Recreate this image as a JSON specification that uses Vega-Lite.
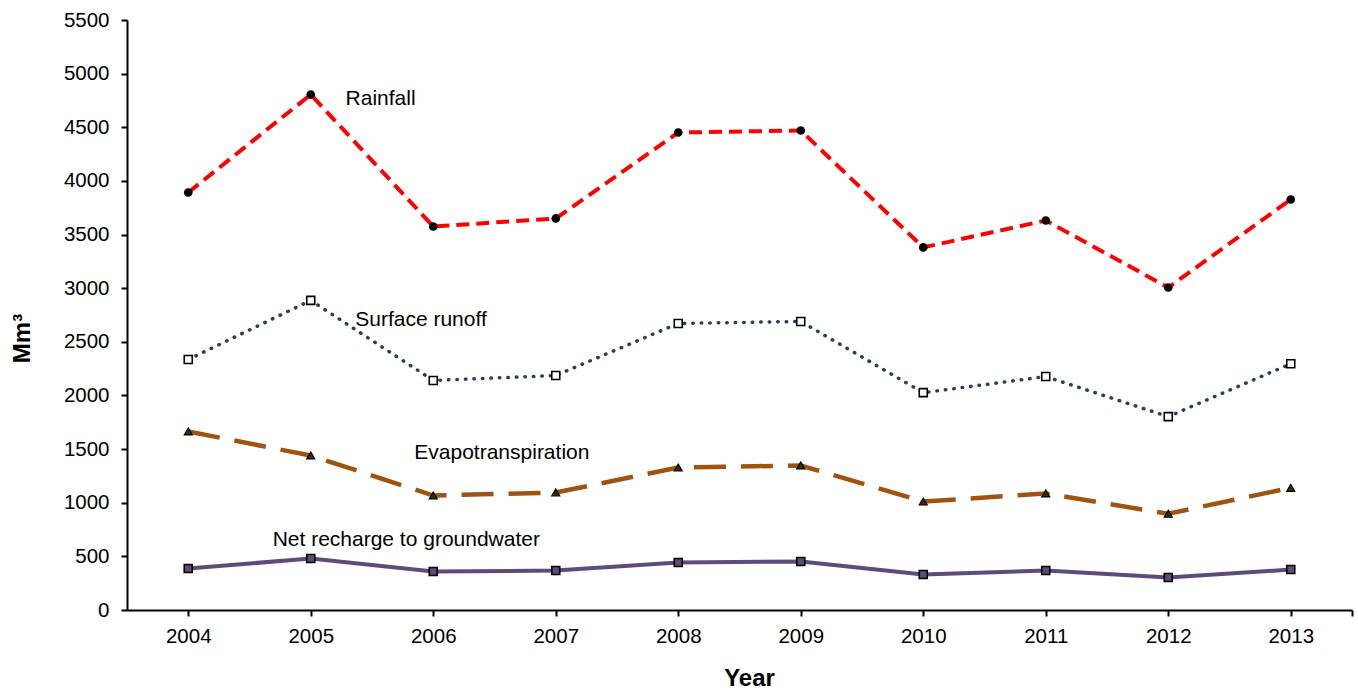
{
  "$schema": "https://vega.github.io/schema/vega-lite/v6.json",
  "width": 1225,
  "height": 590,
  "autosize": {"type": "none"},
  "padding": {"left": 127, "top": 20, "right": 6, "bottom": 82},
  "background": "white",
  "config": {
    "view": {"stroke": null},
    "font": "Liberation Sans",
    "axis": {
      "labelFont": "Liberation Sans",
      "titleFont": "Liberation Sans",
      "labelColor": "#000000",
      "titleColor": "#000000",
      "domainColor": "#000000",
      "tickColor": "#000000",
      "domainWidth": 2,
      "tickWidth": 2,
      "grid": false
    }
  },
  "datasets": {
    "flows": [
      {"year": 2004, "series": "Rainfall", "value": 3892},
      {"year": 2005, "series": "Rainfall", "value": 4805},
      {"year": 2006, "series": "Rainfall", "value": 3575},
      {"year": 2007, "series": "Rainfall", "value": 3650},
      {"year": 2008, "series": "Rainfall", "value": 4451},
      {"year": 2009, "series": "Rainfall", "value": 4470},
      {"year": 2010, "series": "Rainfall", "value": 3380},
      {"year": 2011, "series": "Rainfall", "value": 3631},
      {"year": 2012, "series": "Rainfall", "value": 3006},
      {"year": 2013, "series": "Rainfall", "value": 3827},
      {"year": 2004, "series": "Surface runoff", "value": 2335},
      {"year": 2005, "series": "Surface runoff", "value": 2886},
      {"year": 2006, "series": "Surface runoff", "value": 2140},
      {"year": 2007, "series": "Surface runoff", "value": 2186},
      {"year": 2008, "series": "Surface runoff", "value": 2671},
      {"year": 2009, "series": "Surface runoff", "value": 2690},
      {"year": 2010, "series": "Surface runoff", "value": 2026},
      {"year": 2011, "series": "Surface runoff", "value": 2176},
      {"year": 2012, "series": "Surface runoff", "value": 1803},
      {"year": 2013, "series": "Surface runoff", "value": 2295},
      {"year": 2004, "series": "Evapotranspiration", "value": 1664},
      {"year": 2005, "series": "Evapotranspiration", "value": 1440},
      {"year": 2006, "series": "Evapotranspiration", "value": 1067},
      {"year": 2007, "series": "Evapotranspiration", "value": 1095},
      {"year": 2008, "series": "Evapotranspiration", "value": 1328},
      {"year": 2009, "series": "Evapotranspiration", "value": 1347},
      {"year": 2010, "series": "Evapotranspiration", "value": 1011},
      {"year": 2011, "series": "Evapotranspiration", "value": 1086},
      {"year": 2012, "series": "Evapotranspiration", "value": 897},
      {"year": 2013, "series": "Evapotranspiration", "value": 1139},
      {"year": 2004, "series": "Net recharge to groundwater", "value": 387},
      {"year": 2005, "series": "Net recharge to groundwater", "value": 480},
      {"year": 2006, "series": "Net recharge to groundwater", "value": 359},
      {"year": 2007, "series": "Net recharge to groundwater", "value": 368},
      {"year": 2008, "series": "Net recharge to groundwater", "value": 443},
      {"year": 2009, "series": "Net recharge to groundwater", "value": 452},
      {"year": 2010, "series": "Net recharge to groundwater", "value": 331},
      {"year": 2011, "series": "Net recharge to groundwater", "value": 368},
      {"year": 2012, "series": "Net recharge to groundwater", "value": 303},
      {"year": 2013, "series": "Net recharge to groundwater", "value": 377}
    ],
    "labels": [
      {"year": 2005.57, "value": 4768, "label": "Rainfall"},
      {"year": 2005.9, "value": 2703, "label": "Surface runoff"},
      {"year": 2006.56, "value": 1468, "label": "Evapotranspiration"},
      {"year": 2005.78, "value": 648, "label": "Net recharge to groundwater"}
    ]
  },
  "data": {"name": "flows"},
  "encoding": {
    "x": {
      "field": "year",
      "type": "quantitative",
      "scale": {"domain": [2003.5, 2013.5], "nice": false, "zero": false},
      "axis": {
        "values": [2004, 2005, 2006, 2007, 2008, 2009, 2010, 2011, 2012, 2013, 2013.5],
        "labelExpr": "datum.value == 2013.5 ? '' : format(datum.value, 'd')",
        "title": "Year",
        "titleFontSize": 24,
        "titleFontWeight": "bold",
        "titlePadding": 20,
        "titleX": 622,
        "labelFontSize": 20.5,
        "labelPadding": 10,
        "tickSize": 6
      }
    },
    "y": {
      "field": "value",
      "type": "quantitative",
      "scale": {"domain": [0, 5500], "nice": false},
      "axis": {
        "values": [0, 500, 1000, 1500, 2000, 2500, 3000, 3500, 4000, 4500, 5000, 5500],
        "format": "d",
        "title": "Mm³",
        "titleFontSize": 24,
        "titleFontWeight": "bold",
        "titleY": 318,
        "titlePadding": 29,
        "labelFontSize": 20.5,
        "labelPadding": 12,
        "tickSize": 6
      }
    }
  },
  "layer": [
    {
      "transform": [{"filter": "datum.series === 'Rainfall'"}],
      "mark": {"type": "line", "color": "#FF0000", "strokeWidth": 4, "strokeDash": [13, 7]}
    },
    {
      "transform": [{"filter": "datum.series === 'Surface runoff'"}],
      "mark": {"type": "line", "color": "#243F60", "strokeWidth": 3.5, "strokeDash": [0.5, 8], "strokeCap": "round"}
    },
    {
      "transform": [{"filter": "datum.series === 'Evapotranspiration'"}],
      "mark": {"type": "line", "color": "#A0520F", "strokeWidth": 4.5, "strokeDash": [32, 15]}
    },
    {
      "transform": [{"filter": "datum.series === 'Net recharge to groundwater'"}],
      "mark": {"type": "line", "color": "#604A7B", "strokeWidth": 4}
    },
    {
      "transform": [{"filter": "datum.series === 'Rainfall'"}],
      "mark": {"type": "point", "shape": "circle", "filled": true, "color": "#000000", "size": 75, "opacity": 1}
    },
    {
      "transform": [{"filter": "datum.series === 'Surface runoff'"}],
      "mark": {"type": "point", "shape": "square", "filled": true, "fill": "#FFFFFF", "stroke": "#000000", "strokeWidth": 1.6, "size": 64, "opacity": 1}
    },
    {
      "transform": [{"filter": "datum.series === 'Evapotranspiration'"}],
      "mark": {"type": "point", "shape": "triangle-up", "filled": true, "fill": "#333300", "stroke": "#000000", "strokeWidth": 1.2, "size": 64, "opacity": 1}
    },
    {
      "transform": [{"filter": "datum.series === 'Net recharge to groundwater'"}],
      "mark": {"type": "point", "shape": "square", "filled": true, "fill": "#604A7B", "stroke": "#000000", "strokeWidth": 1.6, "size": 64, "opacity": 1}
    },
    {
      "data": {"name": "labels"},
      "mark": {"type": "text", "font": "Liberation Sans", "fontSize": 21, "color": "#000000", "align": "center", "baseline": "middle"},
      "encoding": {
        "text": {"field": "label", "type": "nominal"}
      }
    }
  ]
}
